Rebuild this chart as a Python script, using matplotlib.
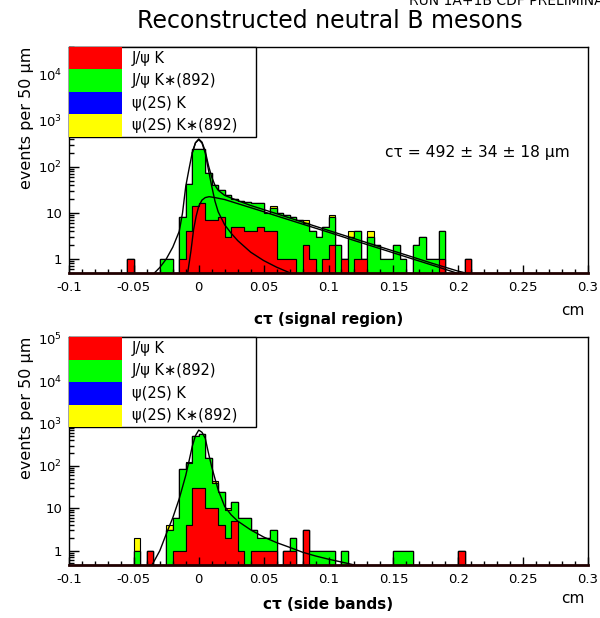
import numpy as np
import matplotlib
matplotlib.use("Agg")
import matplotlib.pyplot as plt
from matplotlib.patches import Patch
from matplotlib.ticker import MultipleLocator, LogLocator, FuncFormatter, NullFormatter

plt.rcParams['font.family'] = ['DejaVu Sans']

# 50 um bins from -0.1 to 0.3 cm
bin_edges = np.linspace(-0.1, 0.3, 81)
bin_width = 0.005

labels = ['J/ψ K', 'J/ψ K∗(892)', 'ψ(2S) K', 'ψ(2S) K∗(892)']
colors = ['#ff0000', '#00ff00', '#0000ff', '#ffff00']

# ---- signal region (bin index, events)
sig_jpsik_bins = [9, 17, 18, 19, 20, 21, 22, 23, 24, 25, 26, 27, 28, 29, 30, 31, 32, 33, 34,
                  36, 37, 39, 40, 42, 44, 45, 57, 61]
sig_jpsik_n = [1, 1, 4, 14, 16, 7, 7, 8, 3, 5, 5, 4, 4, 5, 4, 4, 1, 1, 1,
               2, 1, 1, 2, 1, 1, 1, 1, 1]
sig_jpsikst_bins = [14, 15, 17, 18, 19, 20, 21, 22, 23, 24, 25, 26, 27, 28, 29, 30, 31, 32, 33,
                    34, 35, 36, 37, 38, 39, 40, 41, 43, 44, 46, 47, 48, 49, 50, 51, 53, 54,
                    55, 56, 57]
sig_jpsikst_n = [1, 1, 7, 39, 226, 234, 68, 34, 23, 22, 15, 13, 13, 12, 11, 6, 9, 9, 8,
                 7, 7, 4, 3, 3, 4, 6, 2, 3, 3, 3, 2, 1, 1, 2, 1, 2, 3,
                 1, 1, 3]
sig_psi2sk_bins = []
sig_psi2sk_n = []
sig_psi2skst_bins = [31, 36, 40, 43, 46]
sig_psi2skst_n = [1, 1, 1, 1, 1]

# fit curves
sig_fit_x = [-0.034, -0.03, -0.025, -0.02, -0.015, -0.0125, -0.01, -0.0075, -0.005, -0.0025,
             0.0, 0.0025, 0.005, 0.0075, 0.01, 0.0125, 0.015, 0.02, 0.03, 0.04, 0.05, 0.06,
             0.08, 0.1, 0.12, 0.14, 0.16, 0.18, 0.2, 0.205]
sig_fit_y = [0.5, 0.65, 1.0, 1.8, 4, 10, 38, 90, 205, 335,
             405, 345, 220, 107, 60, 40, 31, 24, 18.5, 14.5, 11.8, 9.6,
             6.3, 4.15, 2.75, 1.82, 1.21, 0.8, 0.54, 0.5]
sig_life_x = [-0.0085, -0.006, -0.004, -0.002, 0.0, 0.0025, 0.005, 0.008, 0.0125, 0.02, 0.03,
              0.04, 0.05, 0.06, 0.08, 0.1, 0.12, 0.14, 0.16, 0.18, 0.2]
sig_life_y = [0.5, 1.5, 4.3, 8.5, 14, 19, 21.5, 22.5, 21.5, 19.5, 15.9,
              13.0, 10.6, 8.6, 5.7, 3.8, 2.5, 1.66, 1.1, 0.73, 0.48]
sig_prompt_x = [-0.005, -0.0025, 0.0, 0.0025, 0.005, 0.0075, 0.01, 0.0125, 0.015, 0.02, 0.025,
                0.03, 0.04, 0.05, 0.06, 0.07]
sig_prompt_y = [200, 335, 390, 330, 200, 85, 38, 18, 10.5, 5.5, 3.6,
                2.5, 1.4, 0.92, 0.66, 0.5]

# ---- side bands (bin index, events)
sb_jpsik_bins = [12, 16, 17, 18, 19, 20, 21, 22, 23, 24, 25, 26, 28, 29, 30, 31, 33, 34, 36, 60]
sb_jpsik_n = [1, 1, 1, 4, 30, 30, 10, 10, 4, 2, 5, 1, 1, 1, 1, 1, 1, 1, 3, 1]
sb_jpsikst_bins = [10, 15, 16, 17, 18, 19, 20, 21, 22, 23, 24, 25, 26, 27, 28, 29, 30, 31, 34,
                   37, 38, 39, 40, 42, 50, 51, 52]
sb_jpsikst_n = [1, 3, 5, 84, 111, 470, 530, 145, 30, 20, 7, 9, 5, 6, 2, 1, 1, 2, 1,
                1, 1, 1, 1, 1, 1, 1, 1]
sb_psi2sk_bins = []
sb_psi2sk_n = []
sb_psi2skst_bins = [10, 15, 18, 22, 24]
sb_psi2skst_n = [1, 1, 10, 5, 1]

sb_fit_x = [-0.036, -0.03, -0.025, -0.02, -0.015, -0.01, -0.0075, -0.005, -0.0025, 0.0,
            0.0025, 0.005, 0.0075, 0.01, 0.0125, 0.015, 0.02, 0.025, 0.03, 0.04, 0.05,
            0.06, 0.07, 0.08, 0.09, 0.1, 0.11, 0.12]
sb_fit_y = [0.46, 1.0, 2.5, 6, 17, 60, 130, 290, 520, 700,
            620, 450, 200, 95, 50, 27, 11, 7, 5, 3.1, 2.1,
            1.55, 1.2, 0.92, 0.75, 0.63, 0.54, 0.46]


def centres(bins):
    return bin_edges[np.array(bins, dtype=int)] + bin_width / 2


def style_axis(ax, ymin, ymax):
    ax.set_xlim(-0.1, 0.3)
    ax.set_yscale('log')
    ax.set_ylim(ymin, ymax)
    ax.xaxis.set_major_locator(MultipleLocator(0.05))
    ax.xaxis.set_minor_locator(MultipleLocator(0.01))
    ax.xaxis.set_major_formatter(FuncFormatter(lambda v, p: '%g' % round(v, 3)))
    ax.yaxis.set_major_locator(LogLocator(base=10, numticks=12))
    ax.yaxis.set_minor_locator(LogLocator(base=10, subs=np.arange(2, 10), numticks=12))
    ax.yaxis.set_minor_formatter(NullFormatter())

    def decade(v, p):
        n = int(round(np.log10(v)))
        if n == 0:
            return '1'
        if n == 1:
            return '10'
        return r'$\mathregular{10^{%d}}$' % n
    ax.yaxis.set_major_formatter(FuncFormatter(decade))
    ax.tick_params(axis='x', which='major', direction='in', length=6, width=1,
                   labelsize=9.5, pad=6, top=False)
    ax.tick_params(axis='x', which='minor', direction='in', length=3, width=1, top=False)
    ax.tick_params(axis='y', which='major', direction='in', length=7, width=1,
                   labelsize=9.5, pad=5, right=False)
    ax.tick_params(axis='y', which='minor', direction='in', length=3.5, width=1, right=False)
    for s in ax.spines.values():
        s.set_linewidth(1.0)
        s.set_color('black')
    ax.spines['bottom'].set_linewidth(2.0)
    ax.spines['bottom'].set_color('#200000')
    ax.set_ylabel('events per 50 μm', loc='top', fontsize=11.5)
    ax.yaxis.set_label_coords(-0.068, 1.0)


def draw_stack(ax, samples):
    xs = [centres(b) for b, n in samples]
    ws = [np.array(n, dtype=float) for b, n in samples]
    ax.hist(xs, bins=bin_edges, weights=ws, stacked=True, histtype='stepfilled',
            color=colors, edgecolor='black', linewidth=0.8)


def add_legend(ax):
    handles = [Patch(facecolor=c, edgecolor='none') for c in colors]
    leg = ax.legend(handles, labels, loc='upper left', bbox_to_anchor=(0, 1, 0.36, 0),
                    mode='expand', borderaxespad=0, borderpad=0, labelspacing=0,
                    handlelength=3.6, handleheight=2.0, handletextpad=0.7, fontsize=10.5,
                    frameon=True, fancybox=False, edgecolor='black', framealpha=1)
    leg.get_frame().set_linewidth(1.0)


fig = plt.figure(figsize=(6.0, 6.18), dpi=100)
ax1 = fig.add_axes([0.115, 0.5587, 0.865, 0.3657])
ax2 = fig.add_axes([0.115, 0.0858, 0.865, 0.3689])

# signal region
style_axis(ax1, 0.5, 4.1e4)
draw_stack(ax1, [(sig_jpsik_bins, sig_jpsik_n), (sig_jpsikst_bins, sig_jpsikst_n),
                 (sig_psi2sk_bins, sig_psi2sk_n), (sig_psi2skst_bins, sig_psi2skst_n)])
ax1.plot(sig_fit_x, sig_fit_y, color='black', lw=1.0)
ax1.plot(sig_life_x, sig_life_y, color='black', lw=1.0)
ax1.plot(sig_prompt_x, sig_prompt_y, color='black', lw=1.0)
add_legend(ax1)
ax1.text(0.609, 0.534, 'cτ = 492 ± 34 ± 18 μm', transform=ax1.transAxes,
         fontsize=11.2, ha='left', va='center')
ax1.set_xlabel('cτ (signal region)', fontsize=11, fontweight='bold')
ax1.xaxis.set_label_coords(0.5, -0.175)
ax1.text(0.994, -0.165, 'cm', transform=ax1.transAxes, fontsize=11, ha='right', va='center')

# side bands
style_axis(ax2, 0.46, 1.1e5)
draw_stack(ax2, [(sb_jpsik_bins, sb_jpsik_n), (sb_jpsikst_bins, sb_jpsikst_n),
                 (sb_psi2sk_bins, sb_psi2sk_n), (sb_psi2skst_bins, sb_psi2skst_n)])
ax2.plot(sb_fit_x, sb_fit_y, color='black', lw=1.0)
add_legend(ax2)
ax2.set_xlabel('cτ (side bands)', fontsize=11, fontweight='bold')
ax2.xaxis.set_label_coords(0.5, -0.14)
ax2.text(0.994, -0.145, 'cm', transform=ax2.transAxes, fontsize=11, ha='right', va='center')

fig.text(0.55, 0.966, 'Reconstructed neutral B mesons', fontsize=17, ha='center', va='center')
# header runs off the top edge, as in the original canvas
fig.text(0.682, 0.9925, 'RUN 1A+1B CDF PRELIMINARY', fontsize=10, ha='left', va='baseline')

fig.savefig('out.png', dpi=100, facecolor='white')
